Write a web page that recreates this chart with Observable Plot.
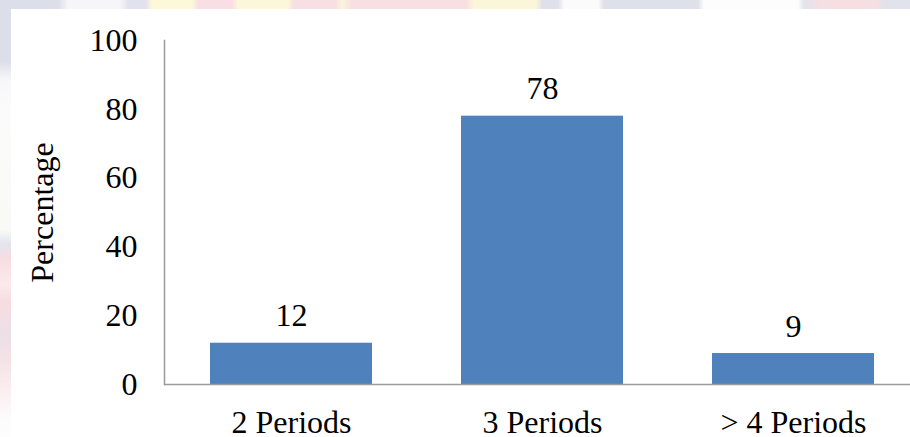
<!DOCTYPE html>
<html>
<head>
<meta charset="utf-8">
<script src="https://cdn.jsdelivr.net/npm/d3@7"></script>
<script src="https://cdn.jsdelivr.net/npm/@observablehq/plot@0.6"></script>
<style>
  html, body { margin: 0; padding: 0; background: #fff; }
  #page { position: relative; width: 910px; height: 437px; overflow: hidden; background: #fff; }
  /* faint decorative border strips behind the white chart area */
  #stripTop {
    position: absolute; left: 0; top: 0; width: 910px; height: 9px;
    background: linear-gradient(to right,
      #dcdfe9 0px, #dcdfe9 58px, #f6f6f9 68px, #f6f6f9 120px, #e2e2ee 128px, #e2e2ee 146px,
      #fdf8d9 152px, #fdf8d9 192px, #f9dfe3 198px, #f9dfe3 232px, #fcf6da 238px, #fcf6da 288px,
      #f8dfe3 294px, #f8dfe3 335px, #fbf5da 342px, #f8dfe3 352px, #f8dfe3 466px,
      #fbf6d9 474px, #fbf6d9 536px, #dfe0ea 542px, #dfe0ea 558px, #fbfbfc 564px, #fbfbfc 598px,
      #dfe1ea 604px, #dfe1ea 698px, #fdfdfd 704px, #fdfdfd 798px, #e3e3ec 804px,
      #f6dfe3 822px, #f6dfe3 876px, #e2e2ec 884px, #e2e2ec 910px);
  }
  #stripLeft {
    position: absolute; left: 0; top: 0; width: 11px; height: 437px;
    background: linear-gradient(to bottom,
      #dcdfe9 0px, #dcdfe9 62px, #f7f7fa 80px, #fbfbfb 110px, #f9f9f6 230px,
      #e3e4ee 244px, #f7dde1 258px, #fbeaec 285px, #f7dde1 300px, #ecdfe8 335px,
      #f4e2e6 360px, #fbeef0 390px, #fcfcfd 420px, #fdfdfd 437px);
  }
  #panel { position: absolute; left: 11px; top: 9px; width: 899px; height: 428px; background: #fff; }
  #chart { position: absolute; left: 0; top: 0; }
  #chart svg, #chart svg text { font-family: "Liberation Serif", "Times New Roman", serif !important; }
</style>
</head>
<body>
<div id="page">
  <div id="stripTop"></div>
  <div id="stripLeft"></div>
  <div id="panel"></div>
  <div id="chart"></div>
</div>
<script>
// Number of teaching periods per day and share of respondents (%)
const categories = ["2 Periods", "3 Periods", "> 4 Periods"];
const percentages = [12, 78, 9];
const yTicks = [0, 20, 40, 60, 80, 100];
const yLabel = "Percentage";

const rows = categories.map((c, i) => ({category: c, value: percentages[i]}));

const font = "Liberation Serif";
const fontSize = 32;
const axisGray = "#9a9a9a";
const barBlue = "#4f81bd";

const chart = Plot.plot({
  width: 910,
  height: 437,
  marginLeft: 164,
  marginRight: 0,
  marginTop: 40,
  marginBottom: 53,
  style: {background: "transparent", color: "#000", fontSize: fontSize + "px", overflow: "visible"},
  x: {domain: categories, range: [164, 919], paddingInner: 0.356, paddingOuter: 0.178},
  y: {domain: [0, 100]},
  marks: [
    Plot.barY(rows, {x: "category", y: "value", fill: barBlue}),
    Plot.frame({anchor: "left", stroke: axisGray, strokeWidth: 1.5}),
    Plot.ruleY([0], {stroke: axisGray, strokeWidth: 1.5}),
    Plot.text(rows, {
      x: "category", y: "value", text: d => String(d.value),
      lineAnchor: "bottom", dy: -17, fontSize, fontFamily: font, fill: "#000"
    }),
    Plot.axisY({
      ticks: yTicks, tickSize: 0, tickPadding: 27, fontSize, fontFamily: font,
      label: yLabel, labelAnchor: "center", labelArrow: false, labelOffset: 134
    }),
    Plot.axisX({tickSize: 0, tickPadding: 26, fontSize, fontFamily: font, label: null})
  ]
});

document.getElementById("chart").appendChild(chart);
</script>
</body>
</html>
